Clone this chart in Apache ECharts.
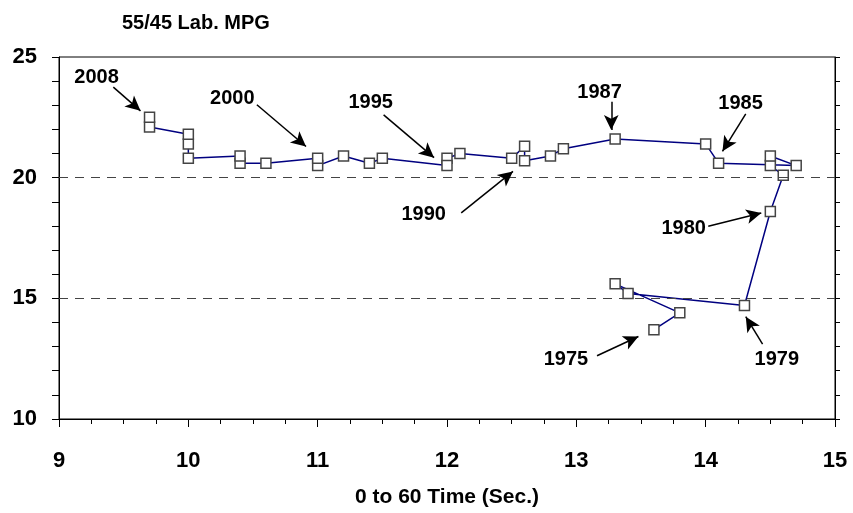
<!DOCTYPE html>
<html>
<head>
<meta charset="utf-8">
<script src="https://cdn.jsdelivr.net/npm/echarts@6/dist/echarts.min.js"></script>
<style>html,body{margin:0;padding:0;background:#fff;}#c{width:853px;height:513px;}</style>
</head>
<body>
<div id="c"></div>
<script>
// Model years 1975..2008 (one point per year)
const years = [1975,1976,1977,1978,1979,1980,1981,1982,1983,1984,1985,1986,1987,1988,1989,1990,1991,1992,1993,1994,1995,1996,1997,1998,1999,2000,2001,2002,2003,2004,2005,2006,2007,2008];
const zeroToSixty = [13.6,13.8,13.3,13.4,14.3,14.5,14.6,14.5,14.5,14.7,14.1,14.0,13.3,12.9,12.8,12.6,12.6,12.5,12.1,12.0,12.0,11.5,11.4,11.2,11.0,11.0,10.6,10.4,10.4,10.0,10.0,10.0,9.7,9.7];
const mpg = [13.7,14.4,15.6,15.2,14.7,18.6,20.1,20.5,20.9,20.5,20.6,21.4,21.6,21.2,20.9,20.7,21.3,20.8,21.0,20.8,20.5,20.8,20.6,20.9,20.5,20.8,20.6,20.6,20.9,20.8,21.4,21.8,22.1,22.5];

// Annotations: label, label position, arrow start, arrow tip (data coordinates)
const annLabels = ['2008','2000','1995','1990','1987','1985','1980','1979','1975'];
const annTextPos = [[9.29,24.16],[10.34,23.29],[11.41,23.11],[11.82,18.47],[13.18,23.52],[14.27,23.09],[13.83,17.88],[14.55,12.48],[12.92,12.48]];
const annFrom = [[9.42,23.75],[10.53,23.02],[11.51,22.60],[12.11,18.54],[13.27,23.15],[14.31,22.64],[14.02,17.99],[14.44,13.10],[13.16,12.62]];
const annTo = [[9.63,22.77],[10.91,21.29],[11.90,20.83],[12.51,20.26],[13.27,21.98],[14.13,21.09],[14.43,18.54],[14.31,14.24],[13.48,13.42]];

const xTicks = [9,10,11,12,13,14,15];
const yTicks = [10,15,20,25];
const dashedGridValues = [15,20];

const FONT = 'Liberation Sans, Arial, sans-serif';
const chart = echarts.init(document.getElementById('c'), null, {renderer:'canvas'});

const pts = zeroToSixty.map((x,i)=>[x, mpg[i], years[i]]);
const annPts = annTextPos.map((p,i)=>({value:p, name:annLabels[i]}));
const arrows = annFrom.map((f,i)=>[{coord:f},{coord:annTo[i]}]);

chart.setOption({
  animation:false,
  backgroundColor:'#fff',
  title:{
    text:'55/45 Lab. MPG', left:117, top:8,
    textStyle:{fontFamily:FONT, fontWeight:'bold', fontSize:20, color:'#000'}
  },
  grid:{left:59, right:18, top:57, bottom:94, show:true, borderColor:'#000', borderWidth:1, backgroundColor:'transparent'},
  xAxis:{
    type:'value', min:xTicks[0], max:xTicks[xTicks.length-1], interval:1,
    name:'0 to 60 Time (Sec.)', nameLocation:'middle', nameGap:68,
    nameTextStyle:{fontFamily:FONT, fontWeight:'bold', fontSize:21, color:'#000'},
    axisLine:{show:true, lineStyle:{color:'#000', width:1}},
    axisTick:{show:true, inside:false, length:8, lineStyle:{color:'#000'}},
    minorTick:{show:true, splitNumber:4, length:5, lineStyle:{color:'#000'}},
    axisLabel:{fontFamily:FONT, fontWeight:'bold', fontSize:22, color:'#000', margin:31},
    splitLine:{show:false}
  },
  yAxis:[{
    type:'value', min:yTicks[0], max:yTicks[yTicks.length-1], interval:5, position:'left',
    axisLine:{show:true, lineStyle:{color:'#000', width:1}},
    axisTick:{show:true, inside:false, length:7, lineStyle:{color:'#000'}},
    minorTick:{show:true, splitNumber:5, length:7, lineStyle:{color:'#000'}},
    axisLabel:{fontFamily:FONT, fontWeight:'bold', fontSize:22, color:'#000', margin:22},
    splitLine:{show:false}
  },{
    type:'value', min:yTicks[0], max:yTicks[yTicks.length-1], interval:5, position:'right',
    axisLine:{show:true, lineStyle:{color:'#000', width:1}},
    axisTick:{show:true, inside:false, length:5, lineStyle:{color:'#000'}},
    minorTick:{show:true, splitNumber:5, length:5, lineStyle:{color:'#000'}},
    axisLabel:{show:false},
    splitLine:{show:false}
  }],
  series:[{
    type:'scatter', data:[], yAxisIndex:0, silent:true, z:1,
    markLine:{
      silent:true, symbol:['none','none'], label:{show:false},
      lineStyle:{color:'#444', width:1, type:[9,7], opacity:1},
      data:dashedGridValues.map(v=>({yAxis:v}))
    }
  },{
    type:'line', data:pts, yAxisIndex:0,
    lineStyle:{color:'#000080', width:1.5},
    symbol:'rect', symbolSize:10,
    itemStyle:{color:'#fff', borderColor:'#444', borderWidth:1.5},
    z:3
  },{
    type:'scatter', data:annPts, yAxisIndex:0,
    symbolSize:0, silent:true,
    itemStyle:{opacity:1},
    label:{show:true, position:'inside', formatter:'{b}', fontFamily:FONT, fontWeight:'bold', fontSize:20, color:'#000', textBorderWidth:0, opacity:1},
    markLine:{
      silent:true, symbol:['none','arrow'], symbolSize:[11,15],
      label:{show:false},
      lineStyle:{color:'#000', width:1.5, type:'solid', opacity:1},
      data:arrows
    },
    z:4
  }]
});
</script>
</body>
</html>
